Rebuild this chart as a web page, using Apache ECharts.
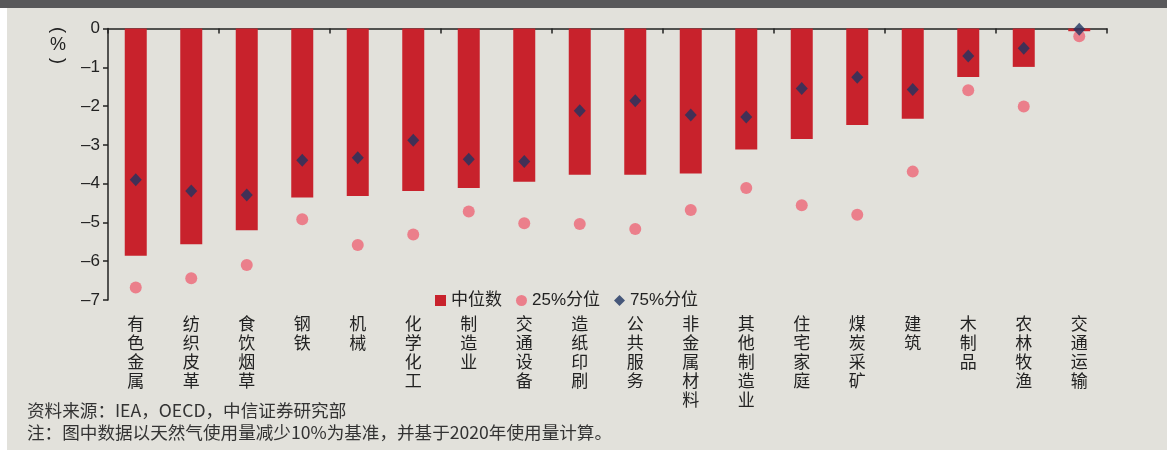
<!DOCTYPE html>
<html><head><meta charset="utf-8">
<script src="https://cdn.jsdelivr.net/npm/echarts@6/dist/echarts.min.js"></script>
<style>html,body{margin:0;padding:0;background:#fff}#c{width:1167px;height:450px}</style>
</head><body><div id="c"></div>
<script>
const categories = ['有色金属','纺织皮革','食饮烟草','钢铁','机械','化学化工','制造业','交通设备','造纸印刷','公共服务','非金属材料','其他制造业','住宅家庭','煤炭采矿','建筑','木制品','农林牧渔','交通运输'];
const median = [-5.86,-5.56,-5.20,-4.36,-4.32,-4.19,-4.11,-3.95,-3.77,-3.77,-3.74,-3.12,-2.85,-2.49,-2.33,-1.25,-0.99,-0.07];
const p25 = [-6.68,-6.44,-6.10,-4.92,-5.58,-5.31,-4.72,-5.02,-5.04,-5.17,-4.68,-4.11,-4.56,-4.80,-3.69,-1.59,-2.01,-0.20];
const p75 = [-3.90,-4.19,-4.29,-3.40,-3.33,-2.88,-3.37,-3.43,-2.12,-1.86,-2.23,-2.28,-1.55,-1.26,-1.57,-0.71,-0.51,-0.02];
const yTicks = [0,-1,-2,-3,-4,-5,-6,-7];
const legendNames = ['中位数','25%分位','75%分位'];
const unitText = ['(','%',')'];
const sourceText = '资料来源：IEA，OECD，中信证券研究部';
const noteText = '注：图中数据以天然气使用量减少10%为基准，并基于2020年使用量计算。';

const chart = echarts.init(document.getElementById('c'), null, {renderer:'canvas'});
const latin = '"Liberation Sans", Arial, sans-serif';
const cjk = '"Liberation Sans","Noto Sans CJK SC", sans-serif';
chart.setOption({
  backgroundColor: '#fff',
  animation: false,
  graphic: [
    {type:'rect', left:7, top:0, shape:{width:1160, height:450}, style:{fill:'#e2e1db'}, z:-10},
    {type:'rect', left:0, top:0, shape:{width:1167, height:8}, style:{fill:'#58585a'}, z:-9},
    {type:'text', x:58, y:30, rotation:-Math.PI/2, style:{text:unitText[0], font:'18px "Liberation Sans", sans-serif', fill:'#222', align:'center', verticalAlign:'middle'}},
    {type:'text', x:58, y:45, style:{text:unitText[1], font:'18px "Liberation Sans", sans-serif', fill:'#222', align:'center', verticalAlign:'middle'}},
    {type:'text', x:58, y:61, rotation:-Math.PI/2, style:{text:unitText[2], font:'18px "Liberation Sans", sans-serif', fill:'#222', align:'center', verticalAlign:'middle'}},
    {type:'text', x:27, y:410, style:{text:sourceText, font:'17.6px "Noto Sans CJK SC", sans-serif', fill:'#333', verticalAlign:'middle'}},
    {type:'text', x:27, y:432, style:{text:noteText, font:'17.6px "Noto Sans CJK SC", sans-serif', fill:'#333', verticalAlign:'middle'}}
  ],
  legend: {
    data: [
      {name:legendNames[0], icon:'rect'},
      {name:legendNames[1], icon:'circle'},
      {name:legendNames[2], icon:'diamond'}
    ],
    left: 430, top: 287, itemWidth: 11, itemHeight: 11, itemGap: 14,
    textStyle: {fontSize: 17, color:'#222', fontFamily: cjk}
  },
  grid: {left:108, right:60, top:28.5, bottom:150, outerBoundsMode:'none', containLabel:false},
  xAxis: [
    {type:'category', data:categories, position:'bottom',
     axisLine:{onZero:true, lineStyle:{color:'#222', width:1.5}},
     axisTick:{show:true, inside:false, length:5, lineStyle:{color:'#222', width:1.5}},
     axisLabel:{show:false}},
    {type:'category', data:categories, position:'bottom',
     axisLine:{show:false}, axisTick:{show:false},
     axisLabel:{show:true, interval:0, margin:14, fontSize:17, lineHeight:19, color:'#222', fontFamily:'"Noto Sans CJK SC", sans-serif',
       formatter: v => v.split('').join('\n'), verticalAlign:'top'}}
  ],
  yAxis: {type:'value', min:-7, max:0, interval:1,
    axisLine:{show:true, lineStyle:{color:'#222', width:1.5}},
    axisTick:{show:true, length:5, lineStyle:{color:'#222', width:1.5}},
    splitLine:{show:false},
    axisLabel:{fontSize:17, color:'#222', margin:8, fontFamily:latin, formatter: v => String(v).replace('-', '–')}
  },
  series: [
    {name:legendNames[0], type:'bar', data:median, barWidth:22, itemStyle:{color:'#c8222c'}, xAxisIndex:0},
    {name:legendNames[1], type:'scatter', data:p25, symbol:'circle', symbolSize:12, itemStyle:{color:'#ee6677'}, xAxisIndex:0, z:3},
    {name:legendNames[2], type:'scatter', data:p75, symbol:'diamond', symbolSize:[12,13], itemStyle:{color:'#1f3461'}, xAxisIndex:0, z:4}
  ]
});
</script></body></html>
